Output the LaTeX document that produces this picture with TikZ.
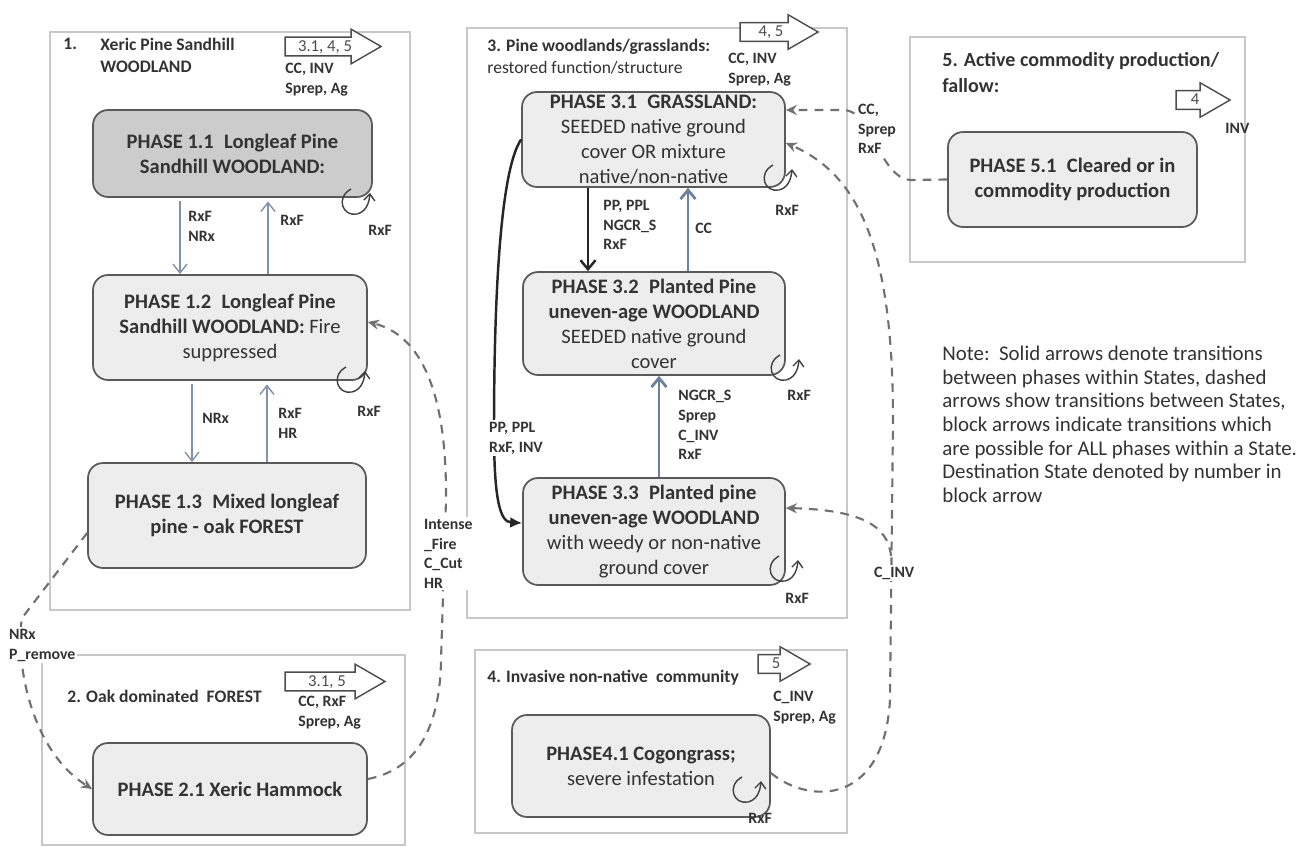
\documentclass[tikz,border=0pt]{standalone}
\usepackage{fontspec}
\setmainfont{Carlito}
\usetikzlibrary{arrows.meta,shapes.arrows}
\definecolor{slate}{HTML}{8392AA}
\definecolor{slatedark}{HTML}{6C809C}
\definecolor{dashgray}{HTML}{707070}
\definecolor{boxgray}{HTML}{5A5A5A}
\definecolor{txtgray}{HTML}{333333}
\definecolor{framegray}{HTML}{C8C8C8}

\tikzset{
  statebox/.style={draw=framegray, line width=0.9pt},
  phase/.style={draw=boxgray, line width=1pt, fill=black!7, rounded corners=0.3cm,
    align=center, text=txtgray, inner sep=0pt,
    font=\fontsize{11.7}{14.2}\selectfont},
  title/.style={anchor=north west, inner sep=0pt, align=left, text=txtgray,
    font=\fontsize{10}{12.5}\selectfont\bfseries},
  lbl/.style={anchor=north west, inner sep=0pt, align=left, text=txtgray,
    font=\fontsize{9}{11.2}\selectfont\bfseries},
  whitelbl/.style={lbl, fill=white, inner sep=1pt},
  blockarrow/.style={single arrow, draw=black!70, line width=0.8pt, fill=white,
    single arrow head extend=0.16cm, single arrow tip angle=60,
    inner xsep=2pt, inner ysep=1pt, text height=6.5pt, text depth=1.3pt,
    font=\fontsize{9.5}{10}\selectfont, text=black!70},
  thinarrow/.style={draw=slate, line width=0.8pt, -{Straight Barb[length=1.8mm,width=2.8mm]}},
  bluearrow/.style={draw=slatedark, line width=1.6pt, -{Straight Barb[length=1.8mm,width=3mm]}},
  blackarrow/.style={draw=black!85, line width=1.4pt, -{Straight Barb[length=1.8mm,width=3mm]}},
  dasharrow/.style={draw=dashgray, line width=1.2pt, dash pattern=on 5pt off 4pt,
    -{Stealth[length=2.2mm,width=2mm]}},
  curlline/.style={draw=black!75, line width=0.8pt, -{Straight Barb[length=1.3mm,width=2.2mm]}},
  curl/.pic={\draw[curlline] (-6,-13) .. controls (-22,-4) and (-14,15) .. (0,12)
    .. controls (8,10) and (12,3) .. (13,-9);}
}

\begin{document}
\begin{tikzpicture}[x=0.02cm,y=-0.02cm]
\fill[white] (0,0) rectangle (1306,847);
\useasboundingbox (0,0) rectangle (1306,847);

% state frames
\draw[statebox] (50,32) rectangle (410,610);
\draw[statebox] (42,655) rectangle (405,845);
\draw[statebox] (467,28) rectangle (847,618);
\draw[statebox] (475,650) rectangle (847,833);
\draw[statebox] (910,37) rectangle (1245,262);

% state titles
\node[title] (t1n) at (63,38) {1.};
\node[title] (t1) at (100,38) {Xeric Pine Sandhill\\WOODLAND};
\node[title] (t2) at (67,690) {2. Oak dominated\ \ FOREST};
\node[title] (t3) at (487,39) {3. Pine woodlands/grasslands:\\\mdseries restored function/structure};
\node[title] (t4) at (487,670) {4. Invasive non-native\ \ community};
\node[title, font=\fontsize{11.4}{15}\selectfont\bfseries] (t5) at (942,52) {5. Active commodity production/\\fallow:};

% phases
\node[phase, fill=black!20, minimum width=5.58cm, minimum height=1.74cm] (p11) at (232.5,153.5)
  {\textbf{PHASE 1.1\enspace Longleaf Pine}\\\textbf{Sandhill WOODLAND:}};
\node[phase, minimum width=5.48cm, minimum height=2.1cm] (p12) at (230,327.5)
  {\textbf{PHASE 1.2\enspace Longleaf Pine}\\\textbf{Sandhill WOODLAND:} Fire\\suppressed};
\node[phase, minimum width=5.56cm, minimum height=2.1cm] (p13) at (227,515.5)
  {\textbf{PHASE 1.3\enspace Mixed longleaf}\\\textbf{pine - oak FOREST}};
\node[phase, minimum width=5.48cm, minimum height=1.84cm] (p21) at (230,789)
  {\textbf{PHASE 2.1 Xeric Hammock}};
\node[phase, minimum width=5.26cm, minimum height=1.9cm] (p31) at (653.5,139.5)
  {\textbf{PHASE 3.1\enspace GRASSLAND:}\\SEEDED native ground\\cover OR mixture\\native/non-native};
\node[phase, minimum width=5.24cm, minimum height=2.06cm] (p32) at (654,323.5)
  {\textbf{PHASE 3.2\enspace Planted Pine}\\\textbf{uneven-age WOODLAND}\\SEEDED native ground\\cover};
\node[phase, minimum width=5.24cm, minimum height=2.14cm] (p33) at (654,531.5)
  {\textbf{PHASE 3.3\enspace Planted pine}\\\textbf{uneven-age WOODLAND}\\with weedy or non-native\\ground cover};
\node[phase, minimum width=5.16cm, minimum height=2.04cm] (p41) at (641,766)
  {\textbf{PHASE4.1 Cogongrass;}\\severe infestation};
\node[phase, minimum width=4.98cm, minimum height=1.9cm] (p51) at (1072.5,179.5)
  {\textbf{PHASE 5.1\enspace Cleared or in}\\\textbf{commodity production}};

% block arrows
\node[blockarrow, minimum height=1.92cm] (b1) at (325,46.5) {3.1, 4, 5};
\node[blockarrow, minimum height=2.0cm] (b2) at (327,681.5) {3.1, 5};
\node[blockarrow, minimum height=1.56cm] (b3) at (771,32) {4, 5};
\node[blockarrow, minimum height=1.04cm] (b4) at (776,664) {5};
\node[blockarrow, minimum height=1.08cm] (b5) at (1195,100) {4};
\node[lbl] (b1l) at (285,63) {CC, INV\\Sprep, Ag};
\node[lbl] (b2l) at (298,696) {CC, RxF\\Sprep, Ag};
\node[lbl] (b3l) at (728,53) {CC, INV\\Sprep, Ag};
\node[lbl] (b4l) at (773,691) {C\_INV\\Sprep, Ag};
\node[lbl] (b5l) at (1225,123) {INV};

% loops within a phase
\pic at (357,202) {curl};
\pic at (352,380) {curl};
\pic at (779,178) {curl};
\pic at (786,368) {curl};
\pic at (785,569) {curl};
\pic at (748,790) {curl};
\node[lbl] (r11) at (368,225) {RxF};
\node[lbl] (r12) at (357,406) {RxF};
\node[lbl] (r31) at (775,205) {RxF};
\node[lbl] (r32) at (787,390) {RxF};
\node[lbl] (r33) at (785,593) {RxF};
\node[lbl] (r41) at (748,813) {RxF};

% transitions within state 1
\coordinate (x1) at (180,0);
\coordinate (x2) at (268,0);
\coordinate (x3) at (192,0);
\coordinate (x4) at (267,0);
\draw[thinarrow] ([yshift=-2pt]p11.south -| x1) -- (p12.north -| x1);
\draw[thinarrow] (p12.north -| x2) -- ([yshift=-2pt]p11.south -| x2);
\draw[thinarrow] ([yshift=-2pt]p12.south -| x3) -- (p13.north -| x3);
\draw[thinarrow] (p13.north -| x4) -- ([yshift=-2pt]p12.south -| x4);
\node[lbl] (l1) at (188,211) {RxF\\NRx};
\node[lbl] (l2) at (280,215) {RxF};
\node[lbl] (l3) at (202,413) {NRx};
\node[lbl] (l4) at (278,408) {RxF\\HR};

% transitions within state 3
\coordinate (x5) at (588,0);
\coordinate (x6) at (688,0);
\coordinate (x7) at (659,0);
\draw[blackarrow] (p31.south -| x5) -- (p32.north -| x5);
\draw[bluearrow] (p32.north -| x6) -- (p31.south -| x6);
\draw[bluearrow] (p33.north -| x7) -- (p32.south -| x7);
\node[lbl] (l5) at (603,200) {PP, PPL\\NGCR\_S\\RxF};
\node[lbl] (l6) at (695,223) {CC};
\node[lbl] (l7) at (678,390) {NGCR\_S\\Sprep\\C\_INV\\RxF};
\draw[draw=black!85, line width=1.4pt, -{Latex[length=2.4mm,width=2.2mm]}]
  (p31.west) .. controls (500,170) and (494,300) .. (494,430)
  .. controls (494,500) and (500,522) .. ([yshift=0.17cm]p33.west);
\node[whitelbl] (l8) at (487,420) {PP, PPL\\RxF, INV};

% transitions between states
\draw[dasharrow] ([yshift=-0.35cm]p13.west) -- (22,618)
  .. controls (15,660) and (30,750) .. (p21.west);
\node[whitelbl] (l9) at (7,627) {NRx\\P\_remove};
\draw[dasharrow] ([yshift=0.2cm]p21.east) .. controls (415,770) and (440,730) .. (441,660)
  -- (446,500) .. controls (447,390) and (420,335) .. ([yshift=0.11cm]p12.east);
\node[whitelbl] (l10) at (422,517) {Intense\\\_Fire\\C\_Cut\\HR};
\draw[dasharrow] (p51.west) -- (910,180) .. controls (890,178) and (880,150) .. (865,125)
  .. controls (857,113) and (850,110) .. (842,110) -- ([yshift=0.59cm]p31.east);
\node[whitelbl] (l11) at (856,102) {CC,\\Sprep\\RxF};
\coordinate (cj) at (891,556);
\draw[dasharrow] ([yshift=-0.14cm]p41.east) .. controls (810,805) and (884,805) .. (890,700)
  -- (893,420) .. controls (893,250) and (860,175) .. ([yshift=-0.07cm]p31.east);
\draw[dasharrow] (cj) .. controls (888,525) and (860,510) .. ([yshift=0.47cm]p33.east);
\node[whitelbl] (l12) at (872,565) {C\_INV};

% note
\node[anchor=north west, inner sep=0pt, align=left, text=txtgray,
  font=\fontsize{11.9}{13.4}\selectfont] (note) at (942,346)
  {Note:\ \ Solid arrows denote transitions\\between phases within States, dashed\\arrows show transitions between States,\\block arrows indicate transitions which\\are possible for ALL phases within a State.\\Destination State denoted by number in\\block arrow};
\end{tikzpicture}
\end{document}
